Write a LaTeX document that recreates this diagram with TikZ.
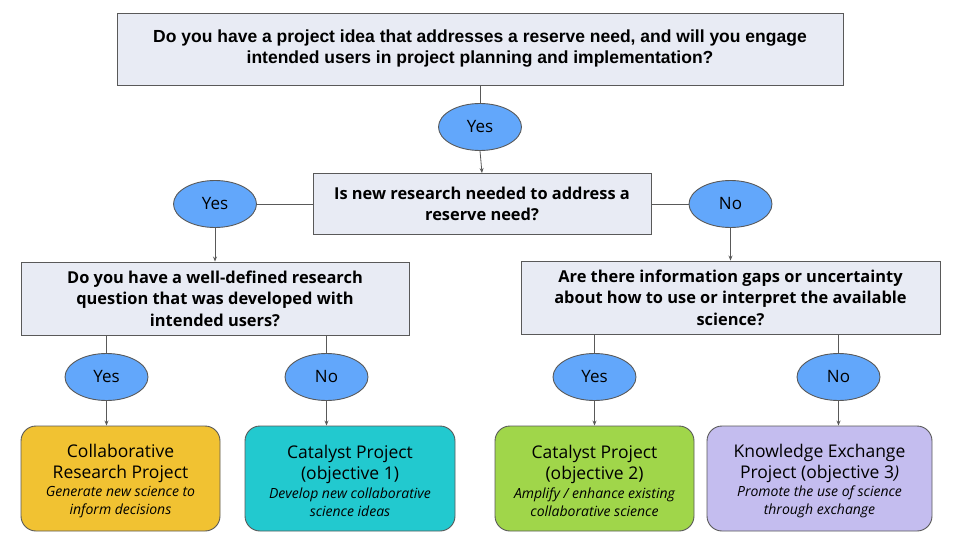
\documentclass[tikz,border=0pt]{standalone}
\usepackage{fontspec}
\setmainfont{Open Sans}
\newfontfamily\condfont{Liberation Sans}
\usetikzlibrary{shapes.geometric,arrows.meta}
\definecolor{linec}{HTML}{595959}
\definecolor{qfill}{HTML}{E8EBF4}
\definecolor{ellfill}{HTML}{62A7FB}
\definecolor{yellowf}{HTML}{F1C232}
\definecolor{tealf}{HTML}{22C9CF}
\definecolor{greenf}{HTML}{A0D64A}
\definecolor{lavf}{HTML}{C4BDEF}
\tikzset{
  qbox/.style={draw=linec, fill=qfill, line width=0.9pt, inner sep=0pt, align=center,
    font=\bfseries\fontsize{16.4}{21.5}\selectfont},
  choice/.style={ellipse, draw=linec, fill=ellfill, line width=0.9pt, inner sep=0pt,
    minimum width=83pt, minimum height=47pt, font=\fontsize{17}{20}\selectfont},
  result/.style={draw=linec, line width=0.9pt, rounded corners=15pt, inner sep=0pt,
    minimum height=105pt},
  rtext/.style={inner sep=0pt, align=center, font=\fontsize{14}{18}\selectfont},
  conn/.style={draw=linec, line width=0.8pt},
  arr/.style={conn, -{Stealth[length=5pt,width=4pt]}}
}
\newcommand{\ttl}[1]{{\fontsize{17.5}{21}\selectfont #1}}
\newcommand{\sbt}[1]{{\itshape #1}}
\begin{document}
\begin{tikzpicture}[x=1pt,y=-1pt]
\useasboundingbox (0,0) rectangle (960,540);
% question boxes
\node[qbox, minimum width=726pt, minimum height=72pt, font=\condfont\bfseries\fontsize{17.5}{21}\selectfont] (q1) at (480,49)
  {Do you have a project idea that addresses a reserve need, and will you engage\\intended users in project planning and implementation?};
\node[qbox, minimum width=338pt, minimum height=61pt] (q2) at (482,204)
  {Is new research needed to address a\\reserve need?};
\node[qbox, minimum width=388pt, minimum height=73pt] (q3) at (215,298.5)
  {Do you have a well-defined research\\question that was developed with\\intended users?};
\node[qbox, minimum width=419pt, minimum height=73pt] (q4) at (730.5,297.5)
  {Are there information gaps or uncertainty\\about how to use or interpret the available\\science?};
% choices
\node[choice] (c1) at (480,127) {Yes};
\node[choice] (c2) at (215,204) {Yes};
\node[choice] (c3) at (730.5,204) {No};
\node[choice] (c4) at (106.5,377) {Yes};
\node[choice] (c5) at (326.5,377) {No};
\node[choice] (c6) at (594.5,377) {Yes};
\node[choice] (c7) at (838.5,377) {No};
% results
\node[result, fill=yellowf, minimum width=199pt] (r1) at (120.5,478.5) {};
\node[result, fill=tealf, minimum width=210pt] (r2) at (350,478.5) {};
\node[result, fill=greenf, minimum width=199pt] (r3) at (594.5,478.5) {};
\node[result, fill=lavf, minimum width=225pt] (r4) at (819.5,478.5) {};
\node[rtext] (r1t) at ([yshift=-2.5pt]r1.center)
  {\ttl{Collaborative}\\[3pt]\ttl{Research Project}\\[0.5pt]\sbt{Generate new science to}\\\sbt{inform decisions}};
\node[rtext] (r2t) at ([yshift=-2.5pt]r2.center)
  {\ttl{Catalyst Project}\\[3pt]\ttl{(objective 1)}\\[0.5pt]\sbt{Develop new collaborative}\\\sbt{science ideas}};
\node[rtext] (r3t) at ([yshift=-2.5pt]r3.center)
  {\ttl{Catalyst Project}\\[3pt]\ttl{(objective 2)}\\[0.5pt]\sbt{Amplify / enhance existing}\\\sbt{collaborative science}};
\node[rtext] (r4t) at ([yshift=-2.5pt]r4.center)
  {\ttl{Knowledge Exchange}\\[3pt]\ttl{Project (objective 3\textit{)}}\\[0.5pt]\sbt{Promote the use of science}\\\sbt{through exchange}};
% connectors
\draw[conn] (q1.south) -- (c1.north);
\draw[arr] (c1.south) -- (q2.north);
\draw[conn] (q2.west) -- (c2.east);
\draw[conn] (q2.east) -- (c3.west);
\draw[arr] (c2.south) -- (q3.north);
\draw[arr] (c3.south) -- (q4.north);
\draw[conn] (c4.north |- q3.south) -- (c4.north);
\draw[conn] (c5.north |- q3.south) -- (c5.north);
\draw[conn] (c6.north |- q4.south) -- (c6.north);
\draw[conn] (c7.north |- q4.south) -- (c7.north);
\draw[arr] (c4.south) -- (c4.south |- r1.north);
\draw[arr] (c5.south) -- (c5.south |- r2.north);
\draw[arr] (c6.south) -- (c6.south |- r3.north);
\draw[arr] (c7.south) -- (c7.south |- r4.north);
\end{tikzpicture}
\end{document}
